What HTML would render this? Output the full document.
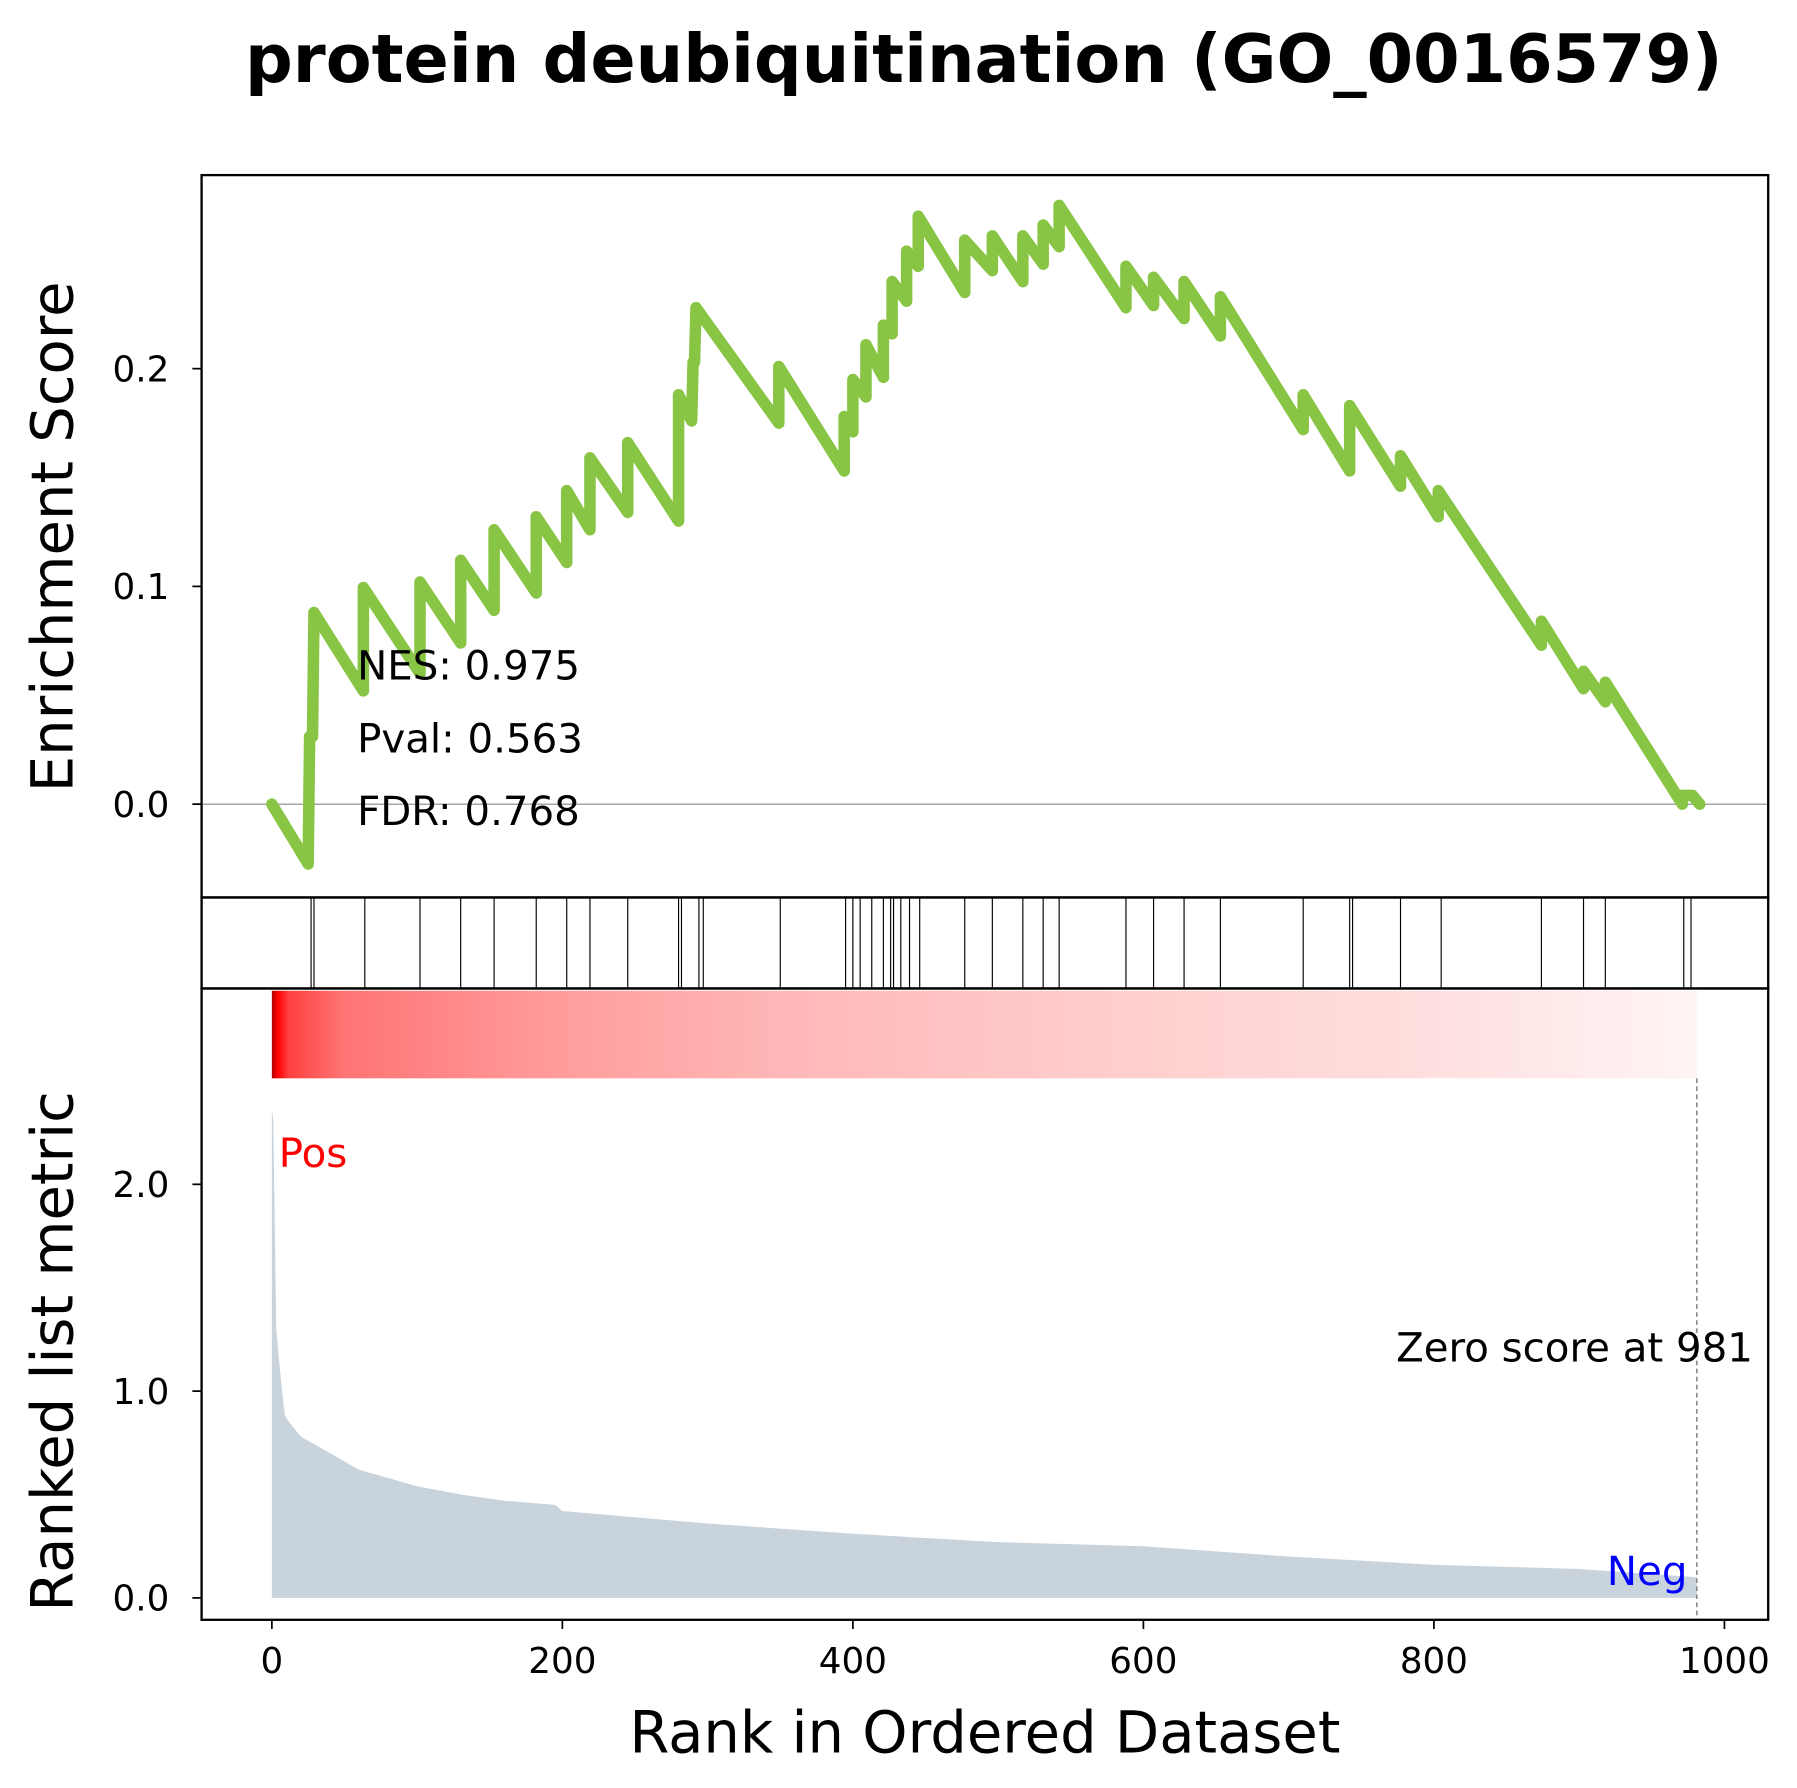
<!DOCTYPE html>
<html><head><meta charset="utf-8"><style>html,body{margin:0;padding:0;background:#fff}svg{display:block}text{font-family:"DejaVu Sans","Liberation Sans",sans-serif}</style></head>
<body>
<svg id="chart" width="1797" height="1788" viewBox="0 0 1560 1552" preserveAspectRatio="none" xmlns="http://www.w3.org/2000/svg">
<defs>
<linearGradient id="rg" x1="0" x2="1" y1="0" y2="0">
<stop offset="0" stop-color="#b00000"/><stop offset="0.004" stop-color="#ff0000"/><stop offset="0.012" stop-color="#ff4040"/><stop offset="0.05" stop-color="#ff7474"/><stop offset="0.2" stop-color="#ff9c9c"/><stop offset="0.35" stop-color="#ffb6b6"/><stop offset="0.55" stop-color="#ffcaca"/><stop offset="0.8" stop-color="#ffdede"/><stop offset="1" stop-color="#fff4f4"/>
</linearGradient>
</defs>
<text x="854" y="71" font-size="58" font-weight="bold" text-anchor="middle">protein deubiquitination (GO_0016579)</text>
<g id="g"></g>
</svg>
<script>
const esRank=[0,25,26,28,29,63,63,102,102,130,130,153,153,182,182,203,203,219,219,245,245,280,280,289,290,291,292,349,349,394,394,400,400,409,409,421,421,427,427,437,437,445,445,477,477,496,496,517,517,531,531,542,542,588,588,607,607,628,628,653,653,710,710,742,742,777,777,803,803,874,874,903,903,918,918,971,971,978,983];
const esVal=[0,-0.0275,0.031,0.031,0.088,0.052,0.0995,0.060,0.102,0.074,0.112,0.089,0.126,0.097,0.132,0.111,0.144,0.126,0.159,0.134,0.166,0.130,0.188,0.176,0.203,0.203,0.228,0.175,0.201,0.153,0.178,0.171,0.195,0.187,0.211,0.196,0.220,0.216,0.240,0.231,0.254,0.247,0.270,0.235,0.259,0.245,0.261,0.240,0.261,0.248,0.266,0.256,0.275,0.228,0.247,0.229,0.242,0.223,0.240,0.215,0.233,0.172,0.188,0.153,0.183,0.146,0.160,0.132,0.144,0.073,0.084,0.053,0.061,0.047,0.056,0.000,0.004,0.004,0];
const hits=[27,29,64,102,130,153,182,203,219,245,280,282,294,297,350,395,400,405,413,421,426,428,433,439,446,477,496,517,531,542,588,607,628,653,710,742,744,777,805,874,903,918,972,977];
const metricRank=[0,1,3,5,7,9,13,20,30,45,60,80,100,130,160,195,200,250,300,400,500,600,700,800,900,981];
const metricVal=[2.37,2.3,1.3,1.15,1.0,0.88,0.84,0.78,0.74,0.68,0.62,0.58,0.54,0.5,0.47,0.45,0.42,0.39,0.36,0.31,0.27,0.25,0.2,0.16,0.14,0.1];
const xTicks=[0,200,400,600,800,1000];
const esTicks=[0.0,0.1,0.2];
const mTicks=[0.0,1.0,2.0];
const zeroRank=981;
const stats=["NES: 0.975","Pval: 0.563","FDR: 0.768"];

const L=175,R=1535,T1=152,B1=779,B2=858,B3=1406;
const X=r=>236+r*1.261;
const YE=v=>698-v*1890;
const YM=v=>1387-v*179.5;
const g=document.getElementById('g');
const NS='http://www.w3.org/2000/svg';
function el(t,a,txt){const e=document.createElementNS(NS,t);for(const k in a)e.setAttribute(k,a[k]);if(txt!==undefined)e.textContent=txt;g.appendChild(e);return e;}

let e=el('line',{x1:L,x2:R,y1:YE(0),y2:YE(0),stroke:'#888','stroke-width':1});


let pts=esRank.map((r,i)=>X(r)+','+YE(esVal[i])).join(' ');
e=el('polyline',{points:pts,fill:'none',stroke:'#88c544','stroke-width':10,'stroke-linejoin':'round','stroke-linecap':'round'});


stats.forEach((s,i)=>{const t=el('text',{x:310,y:590+i*63,'font-size':35},s);

});
hits.forEach(h=>{const l=el('line',{x1:X(h),x2:X(h),y1:B1,y2:B2,stroke:'#000','stroke-width':1});

});
e=el('rect',{x:X(0),y:B2+2,width:X(zeroRank)-X(0),height:76,fill:'url(#rg)'});


let ap='M'+X(0)+','+YM(0)+' '+metricRank.map((r,i)=>'L'+X(r)+','+YM(metricVal[i])).join(' ')+' L'+X(zeroRank)+','+YM(0)+'Z';
e=el('path',{d:ap,fill:'#c9d3dc'});


e=el('line',{x1:X(zeroRank),x2:X(zeroRank),y1:936,y2:B3,stroke:'#777','stroke-width':1.2,'stroke-dasharray':'4,3'});


e=el('text',{x:1212,y:1182,'font-size':35},'Zero score at '+zeroRank);


e=el('text',{x:242,y:1013,'font-size':35,fill:'#ff0000'},'Pos');


e=el('text',{x:1395,y:1376,'font-size':35,fill:'#0000ff'},'Neg');


[[T1,B1],[B1,B2],[B2,B3]].forEach((p,i)=>{const r=el('rect',{x:L,y:p[0],width:R-L,height:p[1]-p[0],fill:'none',stroke:'#000','stroke-width':2});

});
xTicks.forEach(v=>{el('line',{x1:X(v),x2:X(v),y1:B3,y2:B3+8,stroke:'#000','stroke-width':1.5});
const t=el('text',{x:X(v),y:B3+46,'font-size':31,'text-anchor':'middle'},v);

});
esTicks.forEach(v=>{el('line',{x1:L-8,x2:L,y1:YE(v),y2:YE(v),stroke:'#000','stroke-width':1.5});
const t=el('text',{x:L-28,y:YE(v)+11,'font-size':31,'text-anchor':'end'},v.toFixed(1));

});
mTicks.forEach(v=>{el('line',{x1:L-8,x2:L,y1:YM(v),y2:YM(v),stroke:'#000','stroke-width':1.5});
const t=el('text',{x:L-28,y:YM(v)+11,'font-size':31,'text-anchor':'end'},v.toFixed(1));

});
e=el('text',{x:855,y:1521,'font-size':50,'text-anchor':'middle'},'Rank in Ordered Dataset');


e=el('text',{x:0,y:0,'font-size':50,'text-anchor':'middle',transform:'translate(63,466) rotate(-90)'},'Enrichment Score');


e=el('text',{x:0,y:0,'font-size':50,'text-anchor':'middle',transform:'translate(63,1173) rotate(-90)'},'Ranked list metric');


</script>
</body></html>
